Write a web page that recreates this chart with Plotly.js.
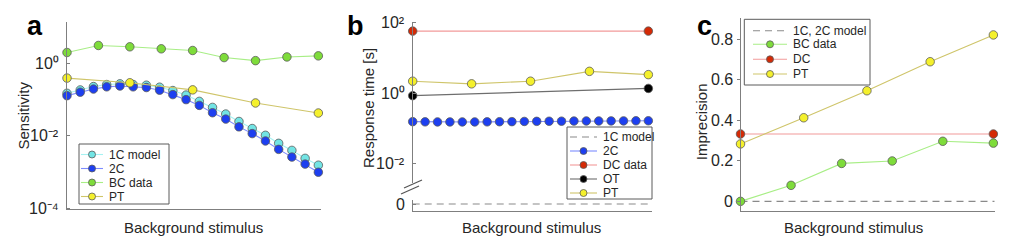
<!DOCTYPE html>
<html>
<head>
<meta charset="utf-8">
<script src="https://cdn.plot.ly/plotly-3.0.1.min.js"></script>
<style>html,body{margin:0;padding:0;background:#fff;}#chart{width:1021px;height:249px;}</style>
</head>
<body>
<div id="chart"></div>
<script>
// ---------------- DATA ----------------
// background stimulus levels (arbitrary units, common scale 0..19)
const modelLevels = [0,1,2,3,4,5,6,7,8,9,10,11,12,13,14,15,16,17,18,19];
const bcLevelsA   = [0,2.375,4.75,7.125,9.5,11.875,14.25,16.625,19];
const ptLevels    = [0,4.75,9.5,14.25,19];
const endLevels   = [0,19];
const bcLevelsC   = [0,3.8,7.6,11.4,15.2,19];

// Panel a: sensitivity
const sens1C = [0.151,0.187,0.232,0.264,0.276,0.264,0.253,0.223,0.18,0.135,0.0903,0.0615,0.0403,0.0251,0.016,0.0104,0.00624,0.00398,0.0024,0.00155];
const sens2C = [0.13,0.162,0.198,0.228,0.24,0.228,0.218,0.184,0.139,0.101,0.070,0.0438,0.0292,0.0178,0.0116,0.00725,0.00425,0.0026,0.00166,0.00099];
const sensBC = [2.03,3.18,2.92,2.57,2.31,1.47,1.21,1.53,1.64];
const sensPT = [0.398,0.295,0.188,0.0816,0.043];

// Panel b: response time [s]
const rt1C = [0,0,0,0,0,0,0,0,0,0,0,0,0,0,0,0,0,0,0,0];
const rt2C = [0.158,0.156,0.155,0.155,0.155,0.155,0.156,0.157,0.158,0.16,0.161,0.162,0.163,0.164,0.165,0.165,0.166,0.166,0.167,0.167];
const rtDC = [58,58];
const rtOT = [0.86,1.38];
const rtPT = [2.21,1.86,2.21,4.2,3.39];

// Panel c: imprecision
const impModel = [0,0];
const impBC = [0,0.079,0.187,0.199,0.296,0.287];
const impDC = [0.332,0.332];
const impPT = [0.283,0.412,0.545,0.688,0.820];

// Labels
const namesA = ['1C model','2C','BC data','PT'];
const namesB = ['1C model','2C','DC data','OT','PT'];
const namesC = ['1C, 2C model','BC data','DC','PT'];
const xTitle = 'Background stimulus';
const yTitles = ['Sensitivity','Response time [s]','Imprecision'];
const panelLetters = ['a','b','c'];
const ticksA = [1e-4,1e-2,1], ticksAText = ['10⁻⁴','10⁻²','10⁰'];
const ticksB = [1e-2,1,100], ticksBText = ['10⁻²','10⁰','10²'];
const ticksB0 = [0], ticksB0Text = ['0'];
const ticksC = [0,0.2,0.4,0.6,0.8], ticksCText = ['0','0.2','0.4','0.6','0.8'];

// ---------------- STYLE ----------------
const W = 1021, H = 249;
const px = v => v / W;
const py = v => 1 - v / H;
const AX = '#7f7f7f';
const TXT = '#262626';
const FONT = 'Liberation Sans, Arial, Helvetica, sans-serif';
const S = {
  c1:  {line:'#a6f2f2', mk:'#72e4e4'},
  c2:  {line:'#7d8cff', mk:'#1d3ff0'},
  bc:  {line:'#a8ee86', mk:'#7edc3a'},
  pt:  {line:'#cfc56a', mk:'#f4f02c'},
  dc:  {line:'#f29a9a', mk:'#d42a06'},
  ot:  {line:'#6e6e6e', mk:'#000000'},
  mod: {line:'#8a8a8a', mk:null}
};
const DASH = '7px,5px';

function tr(x, y, st, xa, ya, dashed) {
  const t = {x:x, y:y, xaxis:xa, yaxis:ya, cliponaxis:false, showlegend:false, hoverinfo:'skip',
    line:{color:st.line, width:1.1, dash: dashed ? DASH : 'solid'}};
  if (st.mk) { t.mode = 'lines+markers'; t.marker = {size:8.5, color:st.mk, line:{color:'#5a5a5a', width:0.8}}; }
  else t.mode = 'lines';
  return t;
}

const data = [
  tr(modelLevels, sens1C, S.c1, 'x', 'y'),
  tr(modelLevels, sens2C, S.c2, 'x', 'y'),
  tr(bcLevelsA, sensBC, S.bc, 'x', 'y'),
  tr(ptLevels, sensPT, S.pt, 'x', 'y'),

  tr(modelLevels, rt1C, S.mod, 'x2', 'y3', true),
  tr(modelLevels, rt2C, S.c2, 'x2', 'y2'),
  tr(endLevels, rtDC, S.dc, 'x2', 'y2'),
  tr(endLevels, rtOT, S.ot, 'x2', 'y2'),
  tr(ptLevels, rtPT, S.pt, 'x2', 'y2'),

  tr(endLevels, impModel, S.mod, 'x3', 'y4', true),
  tr(bcLevelsC, impBC, S.bc, 'x3', 'y4'),
  tr(endLevels, impDC, S.dc, 'x3', 'y4'),
  tr(ptLevels, impPT, S.pt, 'x3', 'y4')
];
// model dashed line in c spans the whole axis
data[9].x = [0, 19.1];

function xax(dom, anchor, range) {
  return {domain:[px(dom[0]), px(dom[1])], anchor:anchor, range:range, showline:true, linecolor:AX, linewidth:1,
    showgrid:false, zeroline:false, ticks:'', showticklabels:false, fixedrange:true};
}
function yax(dom, anchor, range, type, vals, tickdir) {
  return {domain:[py(dom[1]), py(dom[0])], anchor:anchor, range:range, type:type, showline:true, linecolor:AX, linewidth:1,
    showgrid:false, zeroline:false, ticks:tickdir, ticklen:3, tickcolor:AX, tickmode:'array', tickvals:vals,
    showticklabels:false, fixedrange:true};
}

const layout = {
  width:W, height:H, margin:{l:0,r:0,t:0,b:0}, paper_bgcolor:'#fff', plot_bgcolor:'rgba(0,0,0,0)',
  showlegend:false, font:{family:FONT, color:TXT},
  xaxis:  xax([67,321], 'y', [0,19.2]),
  yaxis:  yax([21.7,209.3], 'x', [-4.03,1.16], 'log', ticksA, 'inside'),
  xaxis2: xax([412.7,651.7], 'y3', [0,19.27]),
  yaxis2: yax([21.7,183], 'x2', [-2.54,2.03], 'log', ticksB, 'inside'),
  yaxis3: yax([200,210.7], 'x2', [-0.67,0.4], 'linear', ticksB0, 'inside'),
  xaxis3: xax([740.5,994.7], 'y4', [0,19.1]),
  yaxis4: yax([18.3,210.7], 'x3', [-0.046,0.902], 'linear', ticksC, 'outside'),
  shapes:[], annotations:[]
};

// axis break marks on panel b
layout.shapes.push({type:'line', xref:'paper', yref:'paper', x0:px(404), y0:py(188), x1:px(422), y1:py(180), line:{color:'#555', width:1.2}});
layout.shapes.push({type:'line', xref:'paper', yref:'paper', x0:px(401), y0:py(194), x1:px(419), y1:py(186), line:{color:'#555', width:1.2}});

function ann(text, x, y, opts) {
  layout.annotations.push(Object.assign({text:text, xref:'paper', yref:'paper', x:px(x), y:py(y), xanchor:'center', yanchor:'middle',
    showarrow:false, font:{family:FONT, size:15, color:TXT}}, opts || {}));
}
// tick labels, placed through the y axes' own scales
function tickLabels(vals, texts, yref, isLog, axisX, gap) {
  vals.forEach((v, i) => {
    layout.annotations.push({text:texts[i], xref:'paper', yref:yref, x:px(axisX - gap), y: isLog ? Math.log10(v) : v,
      xanchor:'right', yanchor:'middle', showarrow:false, font:{family:FONT, size:16, color:TXT}});
  });
}
tickLabels(ticksA, ticksAText, 'y', true, 67, 6);
tickLabels(ticksB, ticksBText, 'y2', true, 412.7, 6);
tickLabels(ticksB0, ticksB0Text, 'y3', false, 412.7, 6);
tickLabels(ticksC, ticksCText, 'y4', false, 740.5, 6);

// titles
ann(xTitle, 193, 227);
ann(xTitle, 531, 227);
ann(xTitle, 853, 227);
ann(yTitles[0], 22.5, 116, {textangle:-90});
ann(yTitles[1], 368.5, 108.5, {textangle:-90});
ann(yTitles[2], 701.5, 121.7, {textangle:-90});
const letterFont = {family:'Liberation Sans, Arial, sans-serif', size:27, color:'#000', weight:'bold'};
ann(panelLetters[0], 35, 26.5, {font:letterFont});
ann(panelLetters[1], 355.5, 26.5, {font:letterFont});
ann(panelLetters[2], 704.5, 26.5, {font:letterFont});

// compact legends (MATLAB style)
function legend(box, rows, lineX, textX, entries, fs) {
  layout.shapes.push({type:'rect', xref:'paper', yref:'paper', x0:px(box[0]), y0:py(box[3]), x1:px(box[2]), y1:py(box[1]),
    line:{color:'#5a5a5a', width:1}, fillcolor:'#fff'});
  entries.forEach((e, i) => {
    const yy = rows[i];
    layout.shapes.push({type:'line', xref:'paper', yref:'paper', x0:px(lineX[0]), x1:px(lineX[1]), y0:py(yy), y1:py(yy),
      line:{color:e.st.line, width:1.1, dash: e.dashed ? DASH : 'solid'}});
    if (e.st.mk) {
      const cx = (lineX[0] + lineX[1]) / 2;
      layout.shapes.push({type:'circle', xref:'paper', yref:'paper', xsizemode:'pixel', ysizemode:'pixel',
        xanchor:px(cx), yanchor:py(yy), x0:-3.5, x1:3.5, y0:-3.5, y1:3.5,
        fillcolor:e.st.mk, line:{color:'#5a5a5a', width:0.8}});
    }
    ann(e.name, textX, yy, {xanchor:'left', font:{family:FONT, size:fs, color:TXT}});
  });
}
legend([79,144,169,204], [154.5,168.5,182.5,196.5], [81,103], 106.5,
  [{name:namesA[0], st:S.c1},{name:namesA[1], st:S.c2},{name:namesA[2], st:S.bc},{name:namesA[3], st:S.pt}], 12);
legend([567,127,652,199], [137,151,165,179,193], [570,597], 600.5,
  [{name:namesB[0], st:S.mod, dashed:true},{name:namesB[1], st:S.c2},{name:namesB[2], st:S.dc},{name:namesB[3], st:S.ot},{name:namesB[4], st:S.pt}], 12);
legend([744.3,19.3,870,85], [30.7,44.3,59.3,74], [753,787], 790.5,
  [{name:namesC[0], st:S.mod, dashed:true},{name:namesC[1], st:S.bc},{name:namesC[2], st:S.dc},{name:namesC[3], st:S.pt}], 12);

Plotly.newPlot('chart', data, layout, {staticPlot:true, displayModeBar:false});
</script>
</body>
</html>
